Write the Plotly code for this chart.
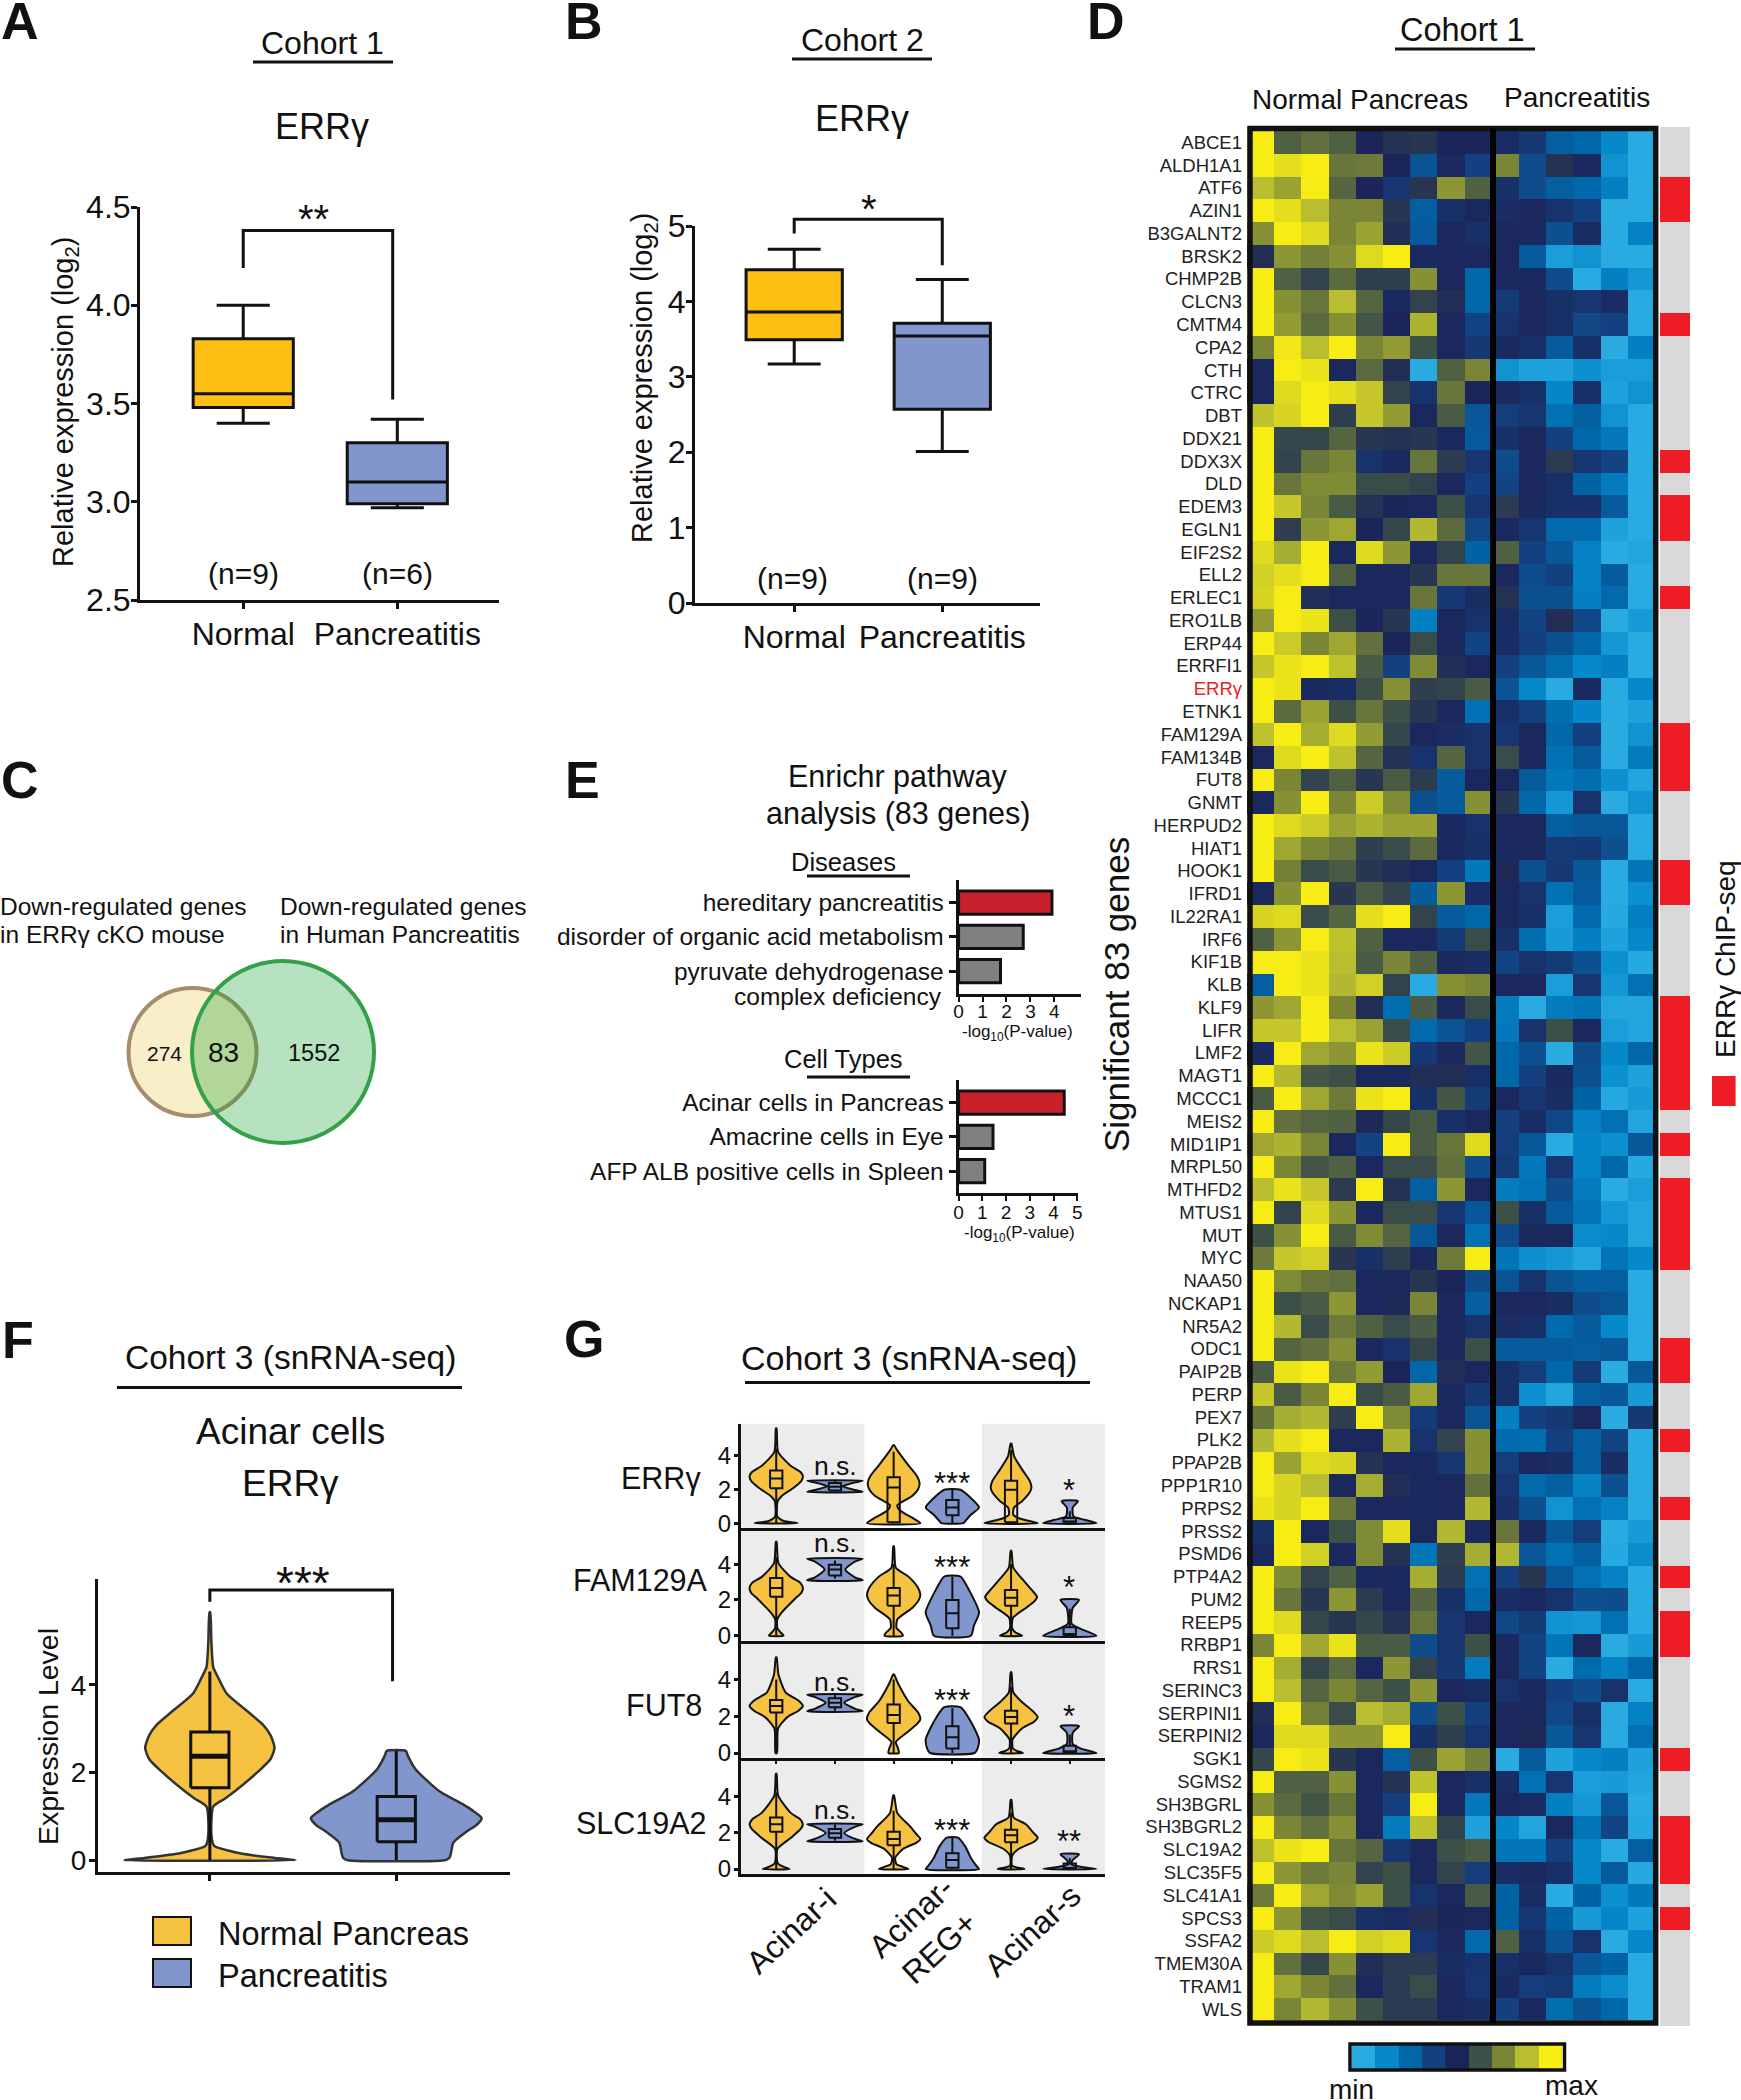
import plotly.graph_objects as go

W, H = 1741, 2100
FONT = "Liberation Sans"
ORANGE = "#FDBF12"
BLUE = "#8296CE"
V_ORANGE = "#F5C242"
RED_BAR = "#C8202A"
GREY_BAR = "#808080"

# ---------- Panel A / B box summaries: low, q1, median, q3, high
A_CATS = ["Normal", "Pancreatitis"]
A_NORMAL = [3.40, 3.48, 3.55, 3.83, 4.00]
A_PANC = [2.97, 2.99, 3.10, 3.30, 3.42]
B_NORMAL = [3.17, 3.49, 3.86, 4.42, 4.69]
B_PANC = [2.01, 2.57, 3.54, 3.71, 4.29]

# ---------- Panel E
DIS_LABELS = ["hereditary pancreatitis", "disorder of organic acid metabolism", "pyruvate dehydrogenase"]
DIS_VALUES = [3.9, 2.7, 1.75]
CELL_LABELS = ["Acinar cells in Pancreas", "Amacrine cells in Eye", "AFP ALB positive cells in Spleen"]
CELL_VALUES = [4.45, 1.45, 1.1]

# ---------- Panel F violins: y level, half width (category units)
F_N_Y = [0, 0.05, 0.15, 0.33, 0.6, 1.22, 1.4, 1.57, 2.0, 2.3, 2.56, 2.85, 3.1, 3.4, 3.8, 4.2, 4.4, 5.0, 5.65]
F_N_W = [0.46, 0.35, 0.17, 0.022, 0.008, 0.018, 0.08, 0.134, 0.254, 0.325, 0.347, 0.325, 0.282, 0.2, 0.09, 0.04, 0.018, 0.008, 0.002]
F_P_Y = [0, 0.05, 0.15, 0.4, 0.66, 0.8, 0.96, 1.1, 1.26, 1.57, 2.08, 2.4, 2.49]
F_P_W = [0.26, 0.285, 0.293, 0.306, 0.38, 0.43, 0.458, 0.42, 0.362, 0.232, 0.102, 0.06, 0.052]
F_N_BOX = [0, 1.65, 2.37, 2.92, 4.3]
F_P_BOX = [0, 0.42, 0.92, 1.45, 2.49]

# ---------- Panel G violins: half widths in relative density units
ERR_Y = [[0, .13, .4, 1.3, 1.6, 2.1, 2.5, 2.76, 3.0, 3.4, 4.2, 5.58], [1.84, 1.95, 2.17, 2.4, 2.5],
         [0, .26, .5, .8, 1.05, 1.6, 2.0, 2.37, 2.8, 3.4, 4.34, 4.6], [0, .13, .5, .92, 1.58, 1.97],
         [0, .26, .5, .92, 1.3, 1.8, 2.1, 2.5, 3.15, 3.95, 4.68], [0, .2, .4, .92, 1.3]]
ERR_W = [[58, 20, 3, 4, 15, 48, 68, 72, 66, 38, 5, 1], [75, 55, 20, 55, 75],
         [72, 55, 35, 15, 10, 50, 66, 70, 62, 40, 8, 1], [30, 35, 50, 72, 45, 22],
         [72, 25, 6, 8, 30, 50, 55, 50, 30, 8, 1], [72, 40, 10, 8, 22]]
ERR_BOX = [[0, 2.05, 2.63, 3.1, 4.4], [1.84, 1.92, 2.15, 2.37, 2.5], [0, .05, 2.1, 2.7, 4.2],
           [0, .47, .92, 1.37, 1.97], [0, .05, 1.97, 2.5, 4.3], [0, 0, .1, .3, .7]]
FAM_Y = [[0, .18, .42, .92, 1.3, 2.05, 2.4, 2.67, 2.95, 3.3, 4.05, 5.25], [3.1, 3.25, 3.7, 4.15, 4.3],
         [0, .18, .42, .92, 1.55, 2.0, 2.3, 2.7, 3.3, 3.8, 5.0], [0, .55, 1.3, 2.55, 3.3],
         [0, .18, .42, 1, 1.55, 1.9, 2.17, 2.5, 3.17, 3.8, 4.75], [0, .42, .67, 1.55, 2.0]]
FAM_W = [[20, 12, 3, 3, 15, 50, 68, 72, 65, 38, 6, 1], [75, 55, 28, 55, 75],
         [25, 20, 8, 10, 50, 68, 72, 65, 40, 6, 1], [50, 58, 72, 45, 22],
         [30, 12, 3, 5, 40, 62, 70, 58, 30, 6, 1], [72, 25, 5, 8, 25]]
FAM_BOX = [[0, 2.17, 2.67, 3.22, 4.4], [3.2, 3.37, 3.7, 3.97, 4.2], [0, 1.67, 2.25, 2.67, 4.0],
           [0, .42, 1.25, 2.0, 3.3], [0, 1.67, 2.12, 2.55, 4.0], [0, 0, .1, .47, 1.5]]
FUT_Y = [[0, 1.34, 1.95, 2.3, 2.56, 2.85, 3.3, 4.27, 5.2], [2.27, 2.4, 2.73, 3.05, 3.17],
         [0, .24, .6, 1.1, 1.6, 1.83, 2.2, 2.8, 3.78, 4.27], [0, .24, .73, 1.7, 2.49],
         [0, .12, .24, .73, 1.34, 1.7, 1.95, 2.25, 2.8, 3.3, 4.39], [0, .24, .49, 1.1, 1.46]]
FUT_W = [[2, 5, 30, 60, 72, 60, 25, 6, 1], [75, 55, 25, 55, 75],
         [14, 12, 6, 35, 64, 72, 66, 40, 12, 1], [60, 68, 72, 50, 22],
         [32, 15, 5, 4, 30, 62, 72, 60, 28, 6, 1], [72, 30, 8, 8, 25]]
FUT_BOX = [[0, 2.2, 2.56, 2.88, 4.0], [2.3, 2.49, 2.73, 2.97, 3.15], [0, 1.63, 2.07, 2.63, 4.0],
           [0, .24, .85, 1.46, 2.45], [0, 1.6, 1.95, 2.3, 3.6], [0, 0, .1, .4, 1.0]]
SLC_Y = [[0, .12, .32, 1.1, 1.72, 2.2, 2.46, 2.75, 3.07, 4.05, 5.23], [1.52, 1.65, 1.97, 2.33, 2.46],
         [0, .12, .25, .61, 1.1, 1.45, 1.65, 1.9, 2.33, 3.07, 4.05], [0, .17, .61, 1.23, 1.72],
         [0, .17, .74, 1.1, 1.5, 1.72, 2.0, 2.46, 2.83, 3.8], [0, .12, .25, .49, .81]]
SLC_W = [[36, 20, 4, 3, 40, 66, 72, 64, 40, 5, 1], [75, 55, 25, 55, 75],
         [40, 25, 8, 4, 25, 62, 72, 62, 45, 10, 1], [72, 65, 50, 35, 15],
         [36, 3, 3, 20, 62, 72, 60, 40, 7, 1], [72, 30, 5, 8, 25]]
SLC_BOX = [[0, 2.04, 2.46, 2.83, 4.2], [1.55, 1.72, 1.97, 2.2, 2.45], [0, 1.3, 1.65, 2.04, 3.2],
           [0, .07, .49, .86, 1.7], [0, 1.47, 1.85, 2.16, 3.1], [0, 0, .05, .3, .6]]
G_GENES = ["ERRγ", "FAM129A", "FUT8", "SLC19A2"]
G_CATS = ["Acinar-i", "Acinar-<br>REG+", "Acinar-s"]

# ---------- Panel D
GENES = """ABCE1 ALDH1A1 ATF6 AZIN1 B3GALNT2 BRSK2 CHMP2B CLCN3 CMTM4 CPA2 CTH CTRC DBT DDX21 DDX3X DLD EDEM3 EGLN1
EIF2S2 ELL2 ERLEC1 ERO1LB ERP44 ERRFI1 ERRγ ETNK1 FAM129A FAM134B FUT8 GNMT HERPUD2 HIAT1 HOOK1 IFRD1 IL22RA1 IRF6
KIF1B KLB KLF9 LIFR LMF2 MAGT1 MCCC1 MEIS2 MID1IP1 MRPL50 MTHFD2 MTUS1 MUT MYC NAA50 NCKAP1 NR5A2 ODC1 PAIP2B PERP
PEX7 PLK2 PPAP2B PPP1R10 PRPS2 PRSS2 PSMD6 PTP4A2 PUM2 REEP5 RRBP1 RRS1 SERINC3 SERPINI1 SERPINI2 SGK1 SGMS2
SH3BGRL SH3BGRL2 SLC19A2 SLC35F5 SLC41A1 SPCS3 SSFA2 TMEM30A TRAM1 WLS""".split()
CHIP_POSITIVE = """ATF6 AZIN1 CMTM4 DDX3X EDEM3 EGLN1 ERLEC1 FAM129A FAM134B FUT8 HOOK1 IFRD1 KLF9 LIFR LMF2 MAGT1
MCCC1 MID1IP1 MTHFD2 MTUS1 MUT MYC ODC1 PAIP2B PLK2 PRPS2 PTP4A2 REEP5 RRBP1 SGK1 SH3BGRL2 SLC19A2 SLC35F5 SPCS3""".split()
HEAT_LEVELS = [0, 1, 2, 3, 4, 5, 6, 7, 8]
HEAT_COLORS = ["#29ABE2", "#0689CB", "#0067A8", "#14407F", "#1B2559", "#3D5048", "#7A8536", "#B8BE30", "#F7EC13"]
HEAT_Z = [
[8,5.3,5.6,5.3,4,4.3,4.4,4,4,3.7,3.3,2.2,2,1,0],
[8,7.7,8,5.7,5.8,4,2.5,3.8,3,6,2.7,4.3,3.8,0.7,0],
[7,6.5,8,5.4,4,3.4,4.4,6.3,5.3,3.6,2.7,2.2,2,1.3,0],
[8,7.7,7,6,6,4.4,2.2,3.6,3.9,3.7,3.9,3.5,3,0,0],
[6.2,8,7.6,6,6.5,4.2,2.3,3.9,3.6,3.9,3.9,2.6,3.7,0,1.2],
[4.2,6.3,5.9,6.2,7.6,8,3.8,3.9,3.9,3.9,2.3,0.4,0.7,0,0],
[8,5.3,4.7,5.5,4.6,4.6,6.2,3.9,2,3.8,3.8,2.7,0,1.3,0.6],
[8,6.2,5.7,7,5.4,3.8,4.7,4.2,2,3.2,3.9,3.6,3.4,3.7,0],
[8,6.4,5.5,6.2,5.1,4,6.8,3.9,2.9,3.5,3.9,3.6,2.8,3,0],
[6,7.9,7,8,6,6.4,5,3.9,3.3,3.8,3.6,2.3,3.6,0,1.3],
[3.9,8,7.8,3.9,5.5,4.2,0,5.3,6,0.7,0.3,0.3,0.8,0.4,0.4],
[3.9,7.6,8,7.7,7.2,4.7,3.5,5.7,4,3.8,3.6,1.1,3.6,0.3,0.7],
[7.1,7.5,8,4.6,7.2,6.4,3.9,5.2,2.4,3.1,3.4,1.7,2.2,0.7,0],
[8,4.8,4.8,5.4,4.4,4.3,4.4,3.8,2.3,3.6,3.9,3,2,1.5,0],
[8,4.7,5.7,6,3.5,3.8,5.7,4.5,3.4,2.7,3.9,4.5,3.4,2.9,0],
[8,5.7,6.1,6.1,4.9,4.9,4.7,3.9,3,2.9,3.9,3.6,2.1,1.4,0],
[8,7.2,6,5.2,4.3,4,3.9,5,3.4,4.5,3.8,3.6,3.6,2.3,0],
[8,4.6,6.3,6.6,4,4.8,6.9,5.5,2.8,3.8,3.4,1.9,1.9,0.3,0],
[7.6,6.7,8,3.9,7.6,6.3,3.9,4.7,2.1,5.3,3,2.4,1.2,0,0.2],
[7.4,7.7,8,5.3,3.9,3.9,4.4,5.7,5.7,3.9,2.7,3,1.2,2.3,0],
[7.5,8,4.2,3.9,3.9,3.9,5.7,3.3,3.7,4.3,2.6,2.6,1.3,1.9,0],
[6.4,8,7.8,5,4,4.4,1.3,3.9,3.5,3.7,2.9,4.2,2.8,0,0.5],
[8,7.3,6,6.6,5.6,4,4.9,3.9,2.9,3.7,3,2.6,2,0.6,0],
[7.2,7.8,8,7.1,5.2,3,6.1,4.2,3.9,3,2.4,1.8,1,1.3,0],
[8,7.8,3.8,3.7,5,6.2,4.6,4.7,5.2,2.5,1,0,3.8,0,1],
[8,5.5,6.5,5,5.7,5,4.4,3.9,1.7,3.6,3,1.8,1.1,0,0.3],
[7.1,8,6.7,7.6,6.4,4.8,3.9,3.7,3.5,3.4,3.9,2,3,0,0.7],
[3.9,7.6,8,7.1,5.4,4.3,3.5,5.4,3.5,4.9,3.9,1.7,2.3,0,1.4],
[8,6,4.7,5.3,4.4,5.2,4.5,2.3,3.9,3.9,2.3,1.5,1.8,0.8,0.2],
[3.9,6.2,8,6,7.3,6.1,2.6,2.3,6.2,4.4,2,0.6,3.5,0,0.7],
[8,7.6,7.3,6.5,6.8,6.5,6.5,3.8,3.5,3.9,3.9,2.2,2.4,2.4,0],
[8,6.6,6,5.7,4.6,4.9,5.5,3.8,3.6,3.8,3.9,3.2,3.3,2.6,0],
[8,5.9,4.9,5.2,4.4,4.2,3.9,3,1.5,4.1,2.6,3.3,2.4,0,1.6],
[3.9,6.2,8,4.4,5.2,4.7,2.3,6.3,3.7,3.9,3.5,1.7,2.3,0,0.8],
[7.5,7.6,4.9,5.4,7.7,8,4.7,2.3,2,3.9,3.6,0.4,1.9,0.1,1.3],
[5.3,6.3,8,7.1,5.3,3.9,3.9,3.2,4.9,3.6,1.8,0.5,1.3,0.3,1],
[8,8,7.8,7,5.2,6,5.3,3.9,3.7,2.9,3.5,3.2,2.6,0.8,0.1],
[2.2,8,7.8,6.9,7.4,4.7,0,6.2,6,3.9,3.9,0.4,3.4,0.6,1.7],
[6.3,6.6,8,6,4.2,1.8,5.2,3.9,4.9,1.4,0,1.4,1.6,0.2,0.2],
[7.2,7.2,8,7,6.5,4.9,1.9,2.5,3,1.5,3.5,5,3.9,0.4,0.2],
[3.8,8,6.6,6.3,7.8,7.3,3.3,3.9,5.1,2,2.6,0,2.7,1,2],
[8,6.9,5.1,5,3.9,3.9,4.2,4.2,3.6,2,3,3.8,2.6,0.8,0.3],
[5.2,8,6.6,5.8,7.8,8,3.6,5.1,3.2,3.9,3.4,3.7,2.1,0.1,0.5],
[8,5.6,5.4,5.3,4.1,4.8,5.2,3.6,3.9,3,3.7,2.8,1.2,1.7,0.2],
[6.6,6.8,6,3.9,2.9,8,5.2,5.7,7.6,3.1,2.4,0,1.1,0.8,2.4],
[8,6,5.1,5.3,3.9,4.9,4.9,5.6,2.7,3.2,1.5,3.4,1.1,2,0.1],
[7,7.8,7.2,4.5,8,4.3,2.2,6.3,3.9,1.4,1.6,2.7,1.4,0,0.4],
[8,4.7,7.6,6.3,3.9,4.9,4.9,3.4,2.4,5,3.6,2.3,1.6,0.6,0.2],
[5,6.2,8,5.2,6.1,5.4,2.4,3.9,1.7,2.7,3.9,3.9,0.9,1,0.2],
[5.8,7.2,7.4,4.4,3.6,4.6,3.9,5.8,8,1.6,0.8,0.6,0.2,1.6,1],
[8,6.1,5.7,5.6,3.9,3.9,4.4,4,2.7,2.5,3.5,2.5,2.2,2.2,0],
[8,5,5.2,6.3,3.9,4.1,6,3.9,2.2,3.9,3.9,3.7,2.7,2.5,0],
[8,6.9,4.9,5.8,5.3,4.9,5.2,3.9,3.5,3.7,3.6,1.9,2.3,1,0],
[8,5.4,5.6,6.2,3.9,3.5,4.8,3.9,5,2.3,2.3,2.3,2.2,2.4,0],
[5.2,7.8,8,5.8,6.4,4,2,4.2,3.9,3.6,3.1,2,3.2,0,2.4],
[7.2,5.2,6,8,4.9,5.2,6.6,3.8,3.3,3.6,0.8,0.2,2.2,2.4,0.5],
[5.7,6.7,6.9,4.6,8,6.1,3.2,3.9,2.5,1.3,3,3.3,3.9,0,3.3],
[6.9,7.7,8,3.9,3.9,6.8,3.5,4.7,6.2,1.9,1.8,3,2.2,2.9,0],
[8,6.5,7.6,7.5,4.3,3.9,3.8,3.4,6.2,3.1,3.9,3.7,2.2,3.7,0],
[8,7.5,7,3.9,6.7,4.2,3.8,3.9,5.6,3.4,1.9,2.2,1.2,2.6,0],
[7.8,7.5,8,5.7,3.9,3.9,3.8,3.9,6.9,3.6,2.6,0.7,1.7,1.2,0],
[3.6,8,3.9,5,6.1,7.7,3.9,6.9,3.8,5.7,3.8,2.4,3.1,0,0.5],
[3.9,8,7.4,3.8,6.1,4.3,1.6,4.6,6.7,6.9,2.4,1.7,2.2,0.1,0.9],
[8,6.1,4.7,5.3,3.8,3.8,6.7,4.5,1.7,3,4.4,2.4,1.7,1.2,0],
[8,5.7,4.4,6.3,4.5,3.9,5.4,3.6,2,3.7,3.8,3.5,2.6,2.7,0],
[8,7.6,4.8,4.4,4.8,4.3,5.7,3.4,3.9,2.8,3.2,0.7,0.6,1.7,0],
[6,8,6.6,7.8,5.2,5.2,2.7,3.4,5,3.8,2.9,1.6,3.9,0,0.5],
[8,6.7,4.8,5.5,3.9,6.3,4.7,3.3,1.4,3.9,2.9,0,1.9,1.2,2],
[8,7,5.4,6,5.4,5,6.3,3.9,3.7,3.5,3.8,3,2.7,3.5,0],
[4.2,8,5.9,4.9,7,6.7,2.7,5,3,3.9,3.9,2.8,3.6,0,1.2],
[3.9,7.6,7.6,6.3,6.3,8,3.6,4.6,3.4,3.9,4.1,2.4,3.4,0,1.7],
[4.8,8,7.8,4.4,3.9,2.2,5,6.5,5.9,0,2.3,0.3,1,1.3,0.3],
[8,5.3,5.3,6.2,3.9,4.3,7.1,3.9,3.6,3.7,1.7,3.4,0.4,0.5,0.2],
[6.2,5.5,5.1,5.7,3.9,3,8,3.9,1.5,3.9,3.7,1.3,0.6,2.4,0],
[8,6,5.6,6.2,3.9,1.4,7.1,4.7,0.3,1.1,0.2,3.9,1.6,2.9,0.1],
[7.1,7.8,8,5.7,5.4,3.4,3.9,5,5.2,1.6,1.6,3,1,0,2.2],
[8,6.3,5.8,6,4.7,5,3.9,4.7,3.1,3.7,3.8,3.6,1,2.3,0.1],
[5.8,8,6.6,6.1,6.5,5,3.5,3.9,5.2,2.1,3.7,0,2.1,0.8,1.5],
[8,6.3,5.1,4.9,3.6,3.7,4.2,4,3.9,2.1,3.3,2.1,0.5,1.1,0.3],
[7.3,7.6,7,8,7.4,7.6,3.4,3.9,1.9,5.3,3.6,2.5,3.5,0,1],
[8,5.6,4.8,6.2,4.2,4.5,4.5,3.7,3.5,3.6,3.9,3.5,2.4,2.1,0],
[8,6.6,6,5.6,3.9,4.5,4.9,3.9,3.4,3.8,3.1,3.2,1.4,0.9,0],
[8,6,6.9,6.2,5,4.5,4.5,3.8,3.7,3,3.8,1.8,2.5,2,0],
]

# ---------- helpers
fig = go.Figure()
layout = {}
shapes = []
annots = []
axis_n = [0]


def px(x):
    return x / W


def py(y):
    return 1 - y / H


def T(text, x, y, size, anchor="center", angle=0, bold=False, color="#111"):
    annots.append(dict(text=f"<b>{text}</b>" if bold else text, x=px(x), y=py(y), xref="paper", yref="paper",
                       showarrow=False, xanchor=anchor, yanchor="middle", textangle=angle, align="center" if anchor == "center" else anchor,
                       font=dict(size=size, color=color, family=FONT)))


def RULE(x0, x1, y, width=3):
    shapes.append(dict(type="line", xref="paper", yref="paper", x0=px(x0), x1=px(x1), y0=py(y), y1=py(y),
                       line=dict(color="#111", width=width)))


def RECT(x0, x1, y0, y1, fill="rgba(0,0,0,0)", line="#111", width=0, layer="above"):
    shapes.append(dict(type="rect", xref="paper", yref="paper", x0=px(x0), x1=px(x1), y0=py(y0), y1=py(y1),
                       fillcolor=fill, line=dict(color=line, width=width), layer=layer))


def AXES(x0, x1, ytop, ybot, xr, yr, xopts=None, yopts=None):
    axis_n[0] += 1
    n = axis_n[0]
    sx = "" if n == 1 else str(n)
    xa = dict(domain=[px(x0), px(x1)], range=xr, anchor=f"y{sx}", showgrid=False, zeroline=False, showline=True,
              linecolor="#111", linewidth=3, ticks="outside", ticklen=6, tickwidth=3, tickcolor="#111",
              showticklabels=False)
    ya = dict(domain=[py(ybot), py(ytop)], range=yr, anchor=f"x{sx}", showgrid=False, zeroline=False, showline=True,
              linecolor="#111", linewidth=3, ticks="outside", ticklen=6, tickwidth=3, tickcolor="#111")
    xa.update(xopts or {})
    ya.update(yopts or {})
    layout[f"xaxis{sx}"] = xa
    layout[f"yaxis{sx}"] = ya
    return f"x{sx}", f"y{sx}"


def BOX(xa, ya, pos, s, fill, width, lw=3, whisk=0.0):
    fig.add_trace(go.Box(x=[pos], lowerfence=[s[0]], q1=[s[1]], median=[s[2]], q3=[s[3]], upperfence=[s[4]],
                         width=width, whiskerwidth=whisk, fillcolor=fill, boxpoints=False,
                         line=dict(color="#111", width=lw), xaxis=xa, yaxis=ya, showlegend=False, hoverinfo="skip"))


def LINEBOX(xa, ya, pos, s, width, lw=2, median_lw=None):
    """Box drawn over a violin: scatter traces stack above filled scatter traces."""
    lo, q1, med, q3, hi = s
    h = width / 2
    xs = [pos, pos, None, pos, pos, None, pos - h, pos + h, pos + h, pos - h, pos - h, None, pos - h, pos + h]
    ys = [lo, q1, None, q3, hi, None, q1, q1, q3, q3, q1, None, med, med]
    if median_lw:
        xs, ys = xs[:-3], ys[:-3]
    fig.add_trace(go.Scatter(x=xs, y=ys, mode="lines", line=dict(color="#111", width=lw), xaxis=xa, yaxis=ya,
                             showlegend=False, hoverinfo="skip"))
    if median_lw:
        fig.add_trace(go.Scatter(x=[pos - h, pos + h], y=[med, med], mode="lines", line=dict(color="#111", width=median_lw),
                                 xaxis=xa, yaxis=ya, showlegend=False, hoverinfo="skip"))


def VIOLIN(xa, ya, pos, ys, ws, fill, lw=2, color="#111", scale=1.0):
    xs = [pos - w * scale for w in ws] + [pos + w * scale for w in reversed(ws)] + [pos - ws[0] * scale]
    yy = list(ys) + list(reversed(ys)) + [ys[0]]
    fig.add_trace(go.Scatter(x=xs, y=yy, mode="lines", fill="toself", fillcolor=fill,
                             line=dict(color=color, width=lw, shape="spline", smoothing=0.6),
                             xaxis=xa, yaxis=ya, showlegend=False, hoverinfo="skip"))


def BRACKET(xa, ya, xs, ys, lw=3):
    fig.add_trace(go.Scatter(x=xs, y=ys, mode="lines", line=dict(color="#111", width=lw),
                             xaxis=xa, yaxis=ya, showlegend=False, hoverinfo="skip"))


NOAXIS = dict(showline=False, ticks="", showticklabels=False)
TICK31 = dict(size=32, color="#111", family=FONT)

# ---------- panel A
xa, ya = AXES(140, 499, 207, 600, [0.33, 2.66], [2.5, 4.5],
              xopts=dict(tickvals=[1, 2], ticktext=A_CATS, showticklabels=True, tickfont=TICK31, ticklabelstandoff=-2),
              yopts=dict(tickvals=[2.5, 3, 3.5, 4, 4.5], ticktext=["2.5", "3.0", "3.5", "4.0", "4.5"], tickfont=TICK31, ticklabelstandoff=-6))
BOX(xa, ya, 1, A_NORMAL, ORANGE, 0.65, whisk=0.53)
BOX(xa, ya, 2, A_PANC, BLUE, 0.65, whisk=0.53)
BRACKET(xa, ya, [1, 1, 1.97, 1.97], [4.19, 4.38, 4.38, 3.52])

# ---------- panel B
xa, ya = AXES(695, 1040, 226, 603, [0.33, 2.66], [0, 5],
              xopts=dict(tickvals=[1, 2], ticktext=A_CATS, showticklabels=True, tickfont=TICK31, ticklabelstandoff=-2),
              yopts=dict(tickvals=[0, 1, 2, 3, 4, 5], tickfont=TICK31, ticklabelstandoff=-6))
BOX(xa, ya, 1, B_NORMAL, ORANGE, 0.65, whisk=0.55)
BOX(xa, ya, 2, B_PANC, BLUE, 0.65, whisk=0.55)
xa, ya = AXES(695, 1040, 188.3, 603, [0.33, 2.66], [0, 5.5], xopts=NOAXIS, yopts=NOAXIS)
BRACKET(xa, ya, [1, 1, 2, 2], [4.9, 5.09, 5.09, 4.48])

T("Cohort 1", 322, 43, 32)
RULE(253, 393, 62)
T("ERRγ", 322, 127, 36)
T("**", 313, 219, 40)
T("(n=9)", 243, 573, 30)
T("(n=6)", 397, 573, 30)
T("Relative expression (log<sub>2</sub>)", 65, 402, 29, angle=-90)
T("Cohort 2", 862, 40, 32)
RULE(792, 932, 59)
T("ERRγ", 862, 119, 36)
T("*", 869, 209, 40)
T("(n=9)", 792, 578, 30)
T("(n=9)", 942, 578, 30)
T("Relative expression (log<sub>2</sub>)", 644, 378, 29, angle=-90)

# ---------- panel C
for s in [dict(cx=192.5, r=64, fill="#F8EEC8", line="#A58E6F"), dict(cx=283, r=91, fill="rgba(15,158,45,0.3)", line="#34A04A")]:
    shapes.append(dict(type="circle", xref="paper", yref="paper", x0=px(s["cx"] - s["r"]), x1=px(s["cx"] + s["r"]),
                       y0=py(1052 + s["r"]), y1=py(1052 - s["r"]), fillcolor=s["fill"], line=dict(color=s["line"], width=4), layer="below"))
T("274", 164, 1053, 21)
T("83", 223, 1052, 28)
T("1552", 314, 1053, 23.5)
T("Down-regulated genes", -2, 906, 24.5, anchor="left")
T("in ERRγ cKO mouse", -2, 935, 24.5, anchor="left")
T("Down-regulated genes", 278, 906, 24.5, anchor="left")
T("in Human Pancreatitis", 278, 935, 24.5, anchor="left")

# ---------- panel E
EF = dict(size=24.5, color="#111", family=FONT)
TF = dict(size=19, color="#111", family=FONT)
xa, ya = AXES(958.6, 1080.7, 880, 994, [0, 5.1], [2.67, -0.66],
              xopts=dict(tickvals=[0, 1, 2, 3, 4], showticklabels=True, tickfont=TF, ticklen=5, tickwidth=2, ticklabelstandoff=-7),
              yopts=dict(tickvals=[0, 1, 2], ticktext=DIS_LABELS, tickfont=EF, ticklen=7))
fig.add_trace(go.Bar(x=DIS_VALUES, y=[0, 1, 2], orientation="h", width=0.68, marker=dict(color=[RED_BAR, GREY_BAR, GREY_BAR], line=dict(color="#111", width=3)),
                     xaxis=xa, yaxis=ya, showlegend=False, hoverinfo="skip"))
xa, ya = AXES(958.6, 1078, 1080, 1193.3, [0, 5.03], [2.65, -0.66],
              xopts=dict(tickvals=[0, 1, 2, 3, 4, 5], showticklabels=True, tickfont=TF, ticklen=5, tickwidth=2, ticklabelstandoff=-5),
              yopts=dict(tickvals=[0, 1, 2], ticktext=CELL_LABELS, tickfont=EF, ticklen=7))
fig.add_trace(go.Bar(x=CELL_VALUES, y=[0, 1, 2], orientation="h", width=0.68, marker=dict(color=[RED_BAR, GREY_BAR, GREY_BAR], line=dict(color="#111", width=3)),
                     xaxis=xa, yaxis=ya, showlegend=False, hoverinfo="skip"))
T("Enrichr pathway", 898, 776, 30.5)
T("analysis (83 genes)", 898, 813, 30.5)
T("Diseases", 843.5, 862, 25.5)
RULE(807, 910, 876)
T("Cell Types", 843.5, 1059, 25.5)
RULE(807, 910, 1077)
T("complex deficiency", 944, 996, 24.5, anchor="right")
T("-log<sub>10</sub>(P-value)", 1017.5, 1033, 17)
T("-log<sub>10</sub>(P-value)", 1019, 1234, 17)

# ---------- panel F
xa, ya = AXES(98, 510, 1579, 1872, [0.4, 2.61], [-0.27, 6.41],
              xopts=dict(tickvals=[1, 2]),
              yopts=dict(tickvals=[0, 2, 4], tickfont=dict(size=28, color="#111", family=FONT), ticklabelstandoff=-3))
VIOLIN(xa, ya, 1, F_N_Y, F_N_W, V_ORANGE, lw=2.5, color="#333")
VIOLIN(xa, ya, 2, F_P_Y, F_P_W, BLUE, lw=2.5, color="#333")
LINEBOX(xa, ya, 1, F_N_BOX, 0.205, lw=3, median_lw=5)
LINEBOX(xa, ya, 2, F_P_BOX, 0.205, lw=3, median_lw=5)
BRACKET(xa, ya, [1, 1, 1.98, 1.98], [5.89, 6.16, 6.16, 4.08])
T("Cohort 3 (snRNA-seq)", 290, 1358, 33.5)
RULE(117, 462, 1387.5)
T("Acinar cells", 290, 1431, 37)
T("ERRγ", 290, 1483, 37)
T("***", 303, 1583, 46)
T("Expression Level", 48, 1737, 28.5, angle=-90)
RECT(153, 191, 1917, 1945, fill=V_ORANGE, width=2)
RECT(153, 191, 1959, 1987, fill=BLUE, width=2)
T("Normal Pancreas", 216, 1934, 32.5, anchor="left")
T("Pancreatitis", 216, 1976, 32.5, anchor="left")

# ---------- panel G
G_ROWS = [
    (ERR_Y, ERR_W, ERR_BOX, 1423.7, 1527.7, 1523.2, 17.0),
    (FAM_Y, FAM_W, FAM_BOX, 1528.5, 1640.6, 1635.7, 17.9),
    (FUT_Y, FUT_W, FUT_BOX, 1641.4, 1757.6, 1753.0, 18.4),
    (SLC_Y, SLC_W, SLC_BOX, 1758.4, 1873.7, 1869.0, 18.2),
]
TF22 = dict(size=24, color="#111", family=FONT)
for i, (ys, ws, bx, top, bot, y0, unit) in enumerate(G_ROWS):
    xa, ya = AXES(741, 1105, top, bot, [0.4, 6.6], [(y0 - bot) / unit, (y0 - top) / unit],
                  xopts=dict(tickvals=[1, 2, 3, 4, 5, 6] if i == 2 else [], ticklen=3, tickwidth=2),
                  yopts=dict(tickvals=[0, 2, 4], tickfont=TF22, ticklen=4, tickwidth=2.5, ticklabelstandoff=-2))
    for b0, b1 in [(0.4, 2.5), (4.5, 6.6)]:
        shapes.append(dict(type="rect", xref=xa, yref=f"{ya} domain", x0=b0, x1=b1, y0=0, y1=1,
                           fillcolor="#ECECEC", line=dict(width=0), layer="below"))
    for k in range(6):
        fill = V_ORANGE if k % 2 == 0 else BLUE
        VIOLIN(xa, ya, k + 1, ys[k], ws[k], fill, scale=1 / 158.4)
        LINEBOX(xa, ya, k + 1, bx[k], 0.21, lw=2)

T("Cohort 3 (snRNA-seq)", 909, 1358, 34)
RULE(745, 1090, 1382.6)
T("ERRγ", 703, 1478, 30.5, anchor="right")
T("FAM129A", 710, 1580, 30.5, anchor="right")
T("FUT8", 704, 1705, 30.5, anchor="right")
T("SLC19A2", 709, 1823, 30.5, anchor="right")
G_SIG = [("n.s.", 835, 1466, 26.5), ("***", 951.8, 1483, 31), ("*", 1069, 1490, 31),
         ("n.s.", 835, 1543, 26.5), ("***", 951.8, 1567, 31), ("*", 1069, 1587, 31),
         ("n.s.", 835, 1682, 26.5), ("***", 951.8, 1700, 31), ("*", 1069, 1716, 31),
         ("n.s.", 835, 1810, 26.5), ("***", 951.8, 1830, 31), ("**", 1069, 1841, 31)]
for t, x, y, s in G_SIG:
    T(t, x, y, s)
T(G_CATS[0], 791, 1931, 32, angle=-43)
T(G_CATS[1], 925, 1933, 32, angle=-43)
T(G_CATS[2], 1032, 1931, 32, angle=-43)

# ---------- panel D
assert len(GENES) == 83 and len(HEAT_Z) == 83
scale = [[l / 8, c] for l, c in zip(HEAT_LEVELS, HEAT_COLORS)]
ticktext = [g if g != "ERRγ" else "<span style='color:#ED1C24'>ERRγ</span>" for g in GENES]
xa, ya = AXES(1247, 1655, 131, 2020.5, [-0.5, 14.5], [82.5, -0.5], xopts=NOAXIS,
              yopts=dict(showline=False, ticks="", tickvals=list(range(83)), ticktext=ticktext,
                         tickfont=dict(size=18.5, color="#222", family=FONT), ticklabelstandoff=4))
fig.add_trace(go.Heatmap(z=HEAT_Z, x=list(range(15)), y=list(range(83)), zmin=0, zmax=8, colorscale=scale,
                         showscale=False, xaxis=xa, yaxis=ya, hoverinfo="skip"))
xa, ya = AXES(1660, 1690, 131, 2020.5, [-0.5, 0.5], [82.5, -0.5], xopts=NOAXIS, yopts=NOAXIS)
fig.add_trace(go.Heatmap(z=[[1 if g in CHIP_POSITIVE else 0] for g in GENES], x=[0], y=list(range(83)), zmin=0, zmax=1,
                         colorscale=[[0, "#D9D9D9"], [1, "#EE1C25"]], showscale=False, xaxis=xa, yaxis=ya, hoverinfo="skip"))
RECT(1660, 1690, 127, 131, fill="#D9D9D9", layer="below")
RECT(1660, 1690, 2020, 2026, fill="#D9D9D9", layer="below")
xa, ya = AXES(1352, 1562, 2045, 2069, [-0.5, 8.5], [-0.5, 0.5], xopts=NOAXIS, yopts=NOAXIS)
fig.add_trace(go.Heatmap(z=[HEAT_LEVELS], x=HEAT_LEVELS, y=[0], zmin=0, zmax=8, colorscale=scale, showscale=False,
                         xaxis=xa, yaxis=ya, hoverinfo="skip"))
RECT(1250, 1655.7, 128.5, 2023, width=5.5)
RECT(1490, 1496, 128.5, 2023, fill="#000")
RECT(1350, 1564.5, 2044, 2070, width=3.5)
T("Cohort 1", 1462, 30, 32.5)
RULE(1395, 1535, 49)
T("Normal Pancreas", 1359.5, 99, 28)
T("Pancreatitis", 1576.6, 98, 28)
T("Significant 83 genes", 1116, 995, 35, angle=-90)
T("ERRγ ChIP-seq", 1725, 959, 28, angle=-90)
RECT(1712, 1735.6, 1076, 1106, fill="#EE1C25")
T("min", 1351, 2089, 28)
T("max", 1571, 2085, 28)

# ---------- panel letters
for t, x, y in [("A", -1, 21), ("B", 563, 21), ("C", -1, 780), ("D", 1085, 21), ("E", 563, 780), ("F", 0, 1340), ("G", 562, 1339)]:
    T(t, x, y, 52, anchor="left", bold=True)

fig.update_layout(width=W, height=H, margin=dict(l=0, r=0, t=0, b=0, autoexpand=False), paper_bgcolor="white", plot_bgcolor="rgba(0,0,0,0)",
                  shapes=shapes, annotations=annots, showlegend=False, font=dict(family=FONT), **layout)
fig.write_html("out.html", config={"displayModeBar": False},
               post_script="document.body.style.margin='0';document.documentElement.style.overflow='hidden';")
